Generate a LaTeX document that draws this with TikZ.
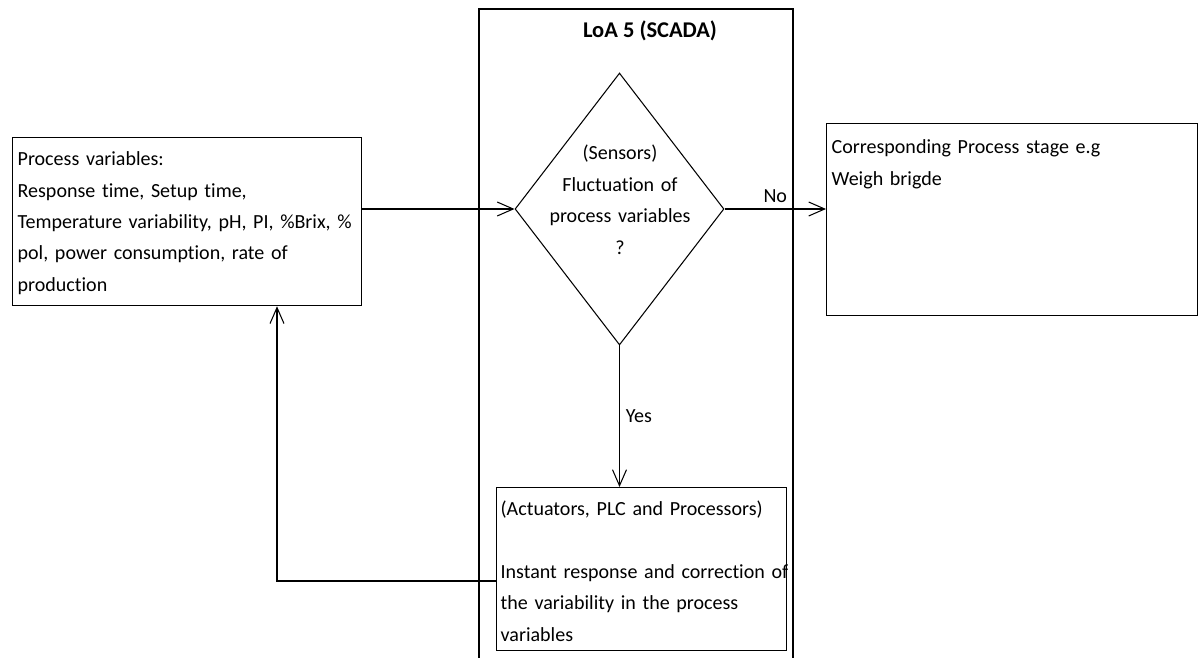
\documentclass[tikz,border=0pt]{standalone}
\usepackage{fontspec}
\setmainfont{Carlito}[Ligatures=NoCommon]
\usetikzlibrary{arrows.meta, positioning, shapes.geometric}
\tikzstyle{flow}=[x=0.02cm, y=-0.02cm, line width=0.75pt, auto,
  >={Straight Barb[length=0.32cm,width=0.28cm]},
  font=\fontsize{11.4pt}{17.9pt}\selectfont]
\tikzstyle{box}=[draw, rectangle, anchor=north west, align=left, inner ysep=0pt]
\tikzstyle{decision}=[draw, diamond, line width=0.6pt, minimum width=4.18cm,
  minimum height=5.44cm, inner sep=0pt]

\begin{document}
\begin{tikzpicture}[flow]
  \useasboundingbox (0,0) rectangle (1198,658);

  % LoA 5 frame, open at the bottom
  \draw (479,658) |- (793,9) -- (793,658);
  \node[anchor=base, font=\fontsize{12.8pt}{17.9pt}\selectfont\bfseries] (2) at (650,38) {LoA 5 (SCADA)};

  \node[box, text width=6.78cm, inner xsep=0.1cm, text height=0.56cm, text depth=2.8cm]
    (0) at (12,137) {Process variables:\\ Response time, Setup time,\\
    \mbox{Temperature variability, pH, PI, \%Brix, \%}\\ pol, power consumption, rate of\\ production};
  \node[decision] (3) at (619.5,209) {};
  \node[text width=4cm, align=center, anchor=base] (3q) at (620,160)
    {(Sensors)\\ Fluctuation of\\ process variables\\ ?};
  \node[box, text width=7.22cm, inner xsep=0.1cm, text height=0.6cm, text depth=3.24cm]
    (5) at (826,123) {Corresponding Process stage e.g\\ Weigh brigde};
  \node[box, text width=5.64cm, inner xsep=0.08cm, text height=0.56cm, text depth=2.7cm]
    (4) at (496,487) {(Actuators, PLC and Processors)\\[17.9pt]
    \mbox{Instant response and correction of}\\ the variability in the process\\ variables};
  \coordinate (6) at (277,581);

  \path[->, line width=0.6pt]
    (0.east |- 3) edge (3.west)
    (3.east) edge node {No} (3.east -| 5.west)
    (3.south) edge node {Yes} (3.south |- 4.north);
  \draw[->, line width=0.6pt] (4.west |- 6) -- (6) -- (6 |- 0.south);
\end{tikzpicture}
\end{document}
